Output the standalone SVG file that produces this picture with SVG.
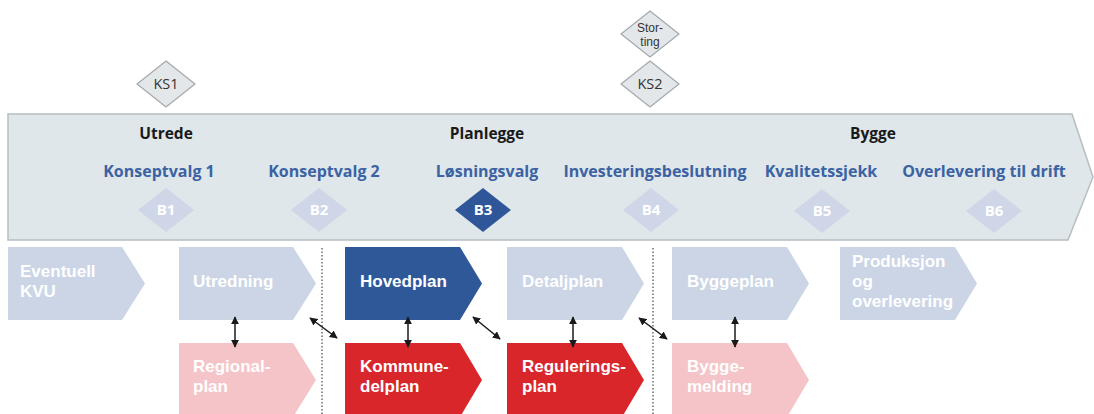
<svg xmlns="http://www.w3.org/2000/svg" width="1094" height="414" viewBox="0 0 1094 414">
  <defs>
    <style>
      .band { fill: #dfe7ea; stroke: #b7bec1; stroke-width: 1.5; }
      .ks { fill: #e3e7e9; stroke: #a3a8ab; stroke-width: 1.2; }
      .kst { font-family: "Open Sans", "Liberation Sans", sans-serif; font-size: 14.5px; fill: #333; text-anchor: middle; }
      .kss { font-family: "Liberation Sans", Arial, sans-serif; font-size: 12px; fill: #333; text-anchor: middle; }
      .phase { font-family: "Open Sans", "Liberation Sans", sans-serif; font-size: 15.5px; font-weight: bold; fill: #1a1a1a; text-anchor: middle; }
      .dec { font-family: "Open Sans", "Liberation Sans", sans-serif; font-size: 16px; font-weight: bold; fill: #3b62a3; text-anchor: middle; }
      .bd { fill: #cfd6e7; }
      .bd-on { fill: #2e5698; }
      .bt { font-family: "Open Sans", "Liberation Sans", sans-serif; font-size: 15px; font-weight: bold; fill: #ffffff; text-anchor: middle; }
      .lb { fill: #cbd5e6; }
      .db { fill: #2f5899; }
      .rd { fill: #d8262b; }
      .pk { fill: #f4c4c8; }
      .st { font-family: "Liberation Sans", Arial, sans-serif; font-size: 17px; font-weight: bold; fill: #ffffff; }
      .dots { stroke: #555; stroke-width: 1.3; stroke-dasharray: 1.5 2; fill: none; }
      .link { stroke: #1a1a1a; stroke-width: 1.5; fill: none; marker-start: url(#ah); marker-end: url(#ah); }
    </style>
    <marker id="ah" viewBox="0 0 10 10" refX="9" refY="5" markerWidth="8" markerHeight="8" orient="auto-start-reverse" markerUnits="userSpaceOnUse">
      <path d="M0,0 L10,5 L0,10 Z" fill="#1a1a1a"/>
    </marker>
  </defs>

  <!-- phase band -->
  <g id="band">
    <path class="band" d="M8,114 L1072,114 L1093,177 L1068,240 L8,240 Z"/>
    <text class="phase" x="166" y="139">Utrede</text>
    <text class="phase" x="487" y="139">Planlegge</text>
    <text class="phase" x="873" y="139">Bygge</text>
  </g>

  <!-- quality gates -->
  <g id="ks1">
    <path class="ks" d="M166,61 L195,84 L166,107 L137,84 Z"/>
    <text class="kst" x="166" y="89">KS1</text>
  </g>
  <g id="storting">
    <path class="ks" d="M650,11 L679,34 L650,57 L621,34 Z"/>
    <text class="kss"><tspan x="650" y="32">Stor-</tspan><tspan x="650" y="46">ting</tspan></text>
  </g>
  <g id="ks2">
    <path class="ks" d="M650,61 L679,84 L650,107 L621,84 Z"/>
    <text class="kst" x="650" y="89">KS2</text>
  </g>

  <!-- decision points -->
  <g id="b1">
    <text class="dec" x="159" y="177">Konseptvalg 1</text>
    <path class="bd" d="M166,188 L194,210 L166,232 L138,210 Z"/>
    <text class="bt" x="166" y="215">B1</text>
  </g>
  <g id="b2">
    <text class="dec" x="324" y="177">Konseptvalg 2</text>
    <path class="bd" d="M319,188 L347,210 L319,232 L291,210 Z"/>
    <text class="bt" x="319" y="215">B2</text>
  </g>
  <g id="b3">
    <text class="dec" x="487" y="177">Løsningsvalg</text>
    <path class="bd-on" d="M483,188 L511,210 L483,232 L455,210 Z"/>
    <text class="bt" x="483" y="215">B3</text>
  </g>
  <g id="b4">
    <text class="dec" x="655" y="177">Investeringsbeslutning</text>
    <path class="bd" d="M651,188 L679,210 L651,232 L623,210 Z"/>
    <text class="bt" x="651" y="215">B4</text>
  </g>
  <g id="b5">
    <text class="dec" x="821" y="177">Kvalitetssjekk</text>
    <path class="bd" d="M822,189 L850,211 L822,233 L794,211 Z"/>
    <text class="bt" x="822" y="216">B5</text>
  </g>
  <g id="b6">
    <text class="dec" x="984" y="177">Overlevering til drift</text>
    <path class="bd" d="M994,189 L1022,211 L994,233 L966,211 Z"/>
    <text class="bt" x="994" y="216">B6</text>
  </g>

  <!-- process steps -->
  <g id="kvu">
    <path class="lb" d="M8,247 L122,247 L145,283.5 L122,320 L8,320 Z"/>
    <text class="st"><tspan x="20" y="277">Eventuell</tspan><tspan x="20" y="297">KVU</tspan></text>
  </g>
  <g id="utredning">
    <path class="lb" d="M179,247 L293,247 L316,283.5 L293,320 L179,320 Z"/>
    <text class="st" x="193" y="287">Utredning</text>
  </g>
  <g id="regionalplan">
    <path class="pk" d="M179,343 L293,343 L316,380 L293,417 L179,417 Z"/>
    <text class="st"><tspan x="193" y="372">Regional-</tspan><tspan x="193" y="392">plan</tspan></text>
  </g>
  <g id="hovedplan">
    <path class="db" d="M345,247 L460,247 L482,283.5 L460,320 L345,320 Z"/>
    <text class="st" x="360" y="287">Hovedplan</text>
  </g>
  <g id="kommunedelplan">
    <path class="rd" d="M345,343 L460,343 L482,380 L460,417 L345,417 Z"/>
    <text class="st"><tspan x="360" y="372">Kommune-</tspan><tspan x="360" y="392">delplan</tspan></text>
  </g>
  <g id="detaljplan">
    <path class="lb" d="M507,247 L622,247 L644,283.5 L622,320 L507,320 Z"/>
    <text class="st" x="522" y="287">Detaljplan</text>
  </g>
  <g id="reguleringsplan">
    <path class="rd" d="M507,343 L622,343 L644,380 L622,417 L507,417 Z"/>
    <text class="st"><tspan x="522" y="372">Regulerings-</tspan><tspan x="522" y="392">plan</tspan></text>
  </g>
  <g id="byggeplan">
    <path class="lb" d="M672,247 L787,247 L809,283.5 L787,320 L672,320 Z"/>
    <text class="st" x="687" y="287">Byggeplan</text>
  </g>
  <g id="byggemelding">
    <path class="pk" d="M672,343 L787,343 L809,380 L787,417 L672,417 Z"/>
    <text class="st"><tspan x="687" y="372">Bygge-</tspan><tspan x="687" y="392">melding</tspan></text>
  </g>
  <g id="produksjon">
    <path class="lb" d="M840,247 L955,247 L977,283.5 L955,320 L840,320 Z"/>
    <text class="st"><tspan x="852" y="267">Produksjon</tspan><tspan x="852" y="287">og</tspan><tspan x="852" y="307">overlevering</tspan></text>
  </g>

  <!-- separators and links -->
  <g id="connectors">
    <line class="dots" x1="322" y1="248" x2="322" y2="414"/>
    <line class="dots" x1="653" y1="248" x2="653" y2="414"/>
    <line class="link" x1="235" y1="317" x2="235" y2="347"/>
    <line class="link" x1="408" y1="317" x2="408" y2="347"/>
    <line class="link" x1="573" y1="317" x2="573" y2="347"/>
    <line class="link" x1="735" y1="317" x2="735" y2="347"/>
    <line class="link" x1="310" y1="318" x2="337" y2="338"/>
    <line class="link" x1="473" y1="317" x2="500" y2="339"/>
    <line class="link" x1="639" y1="318" x2="667" y2="339"/>
  </g>
</svg>
